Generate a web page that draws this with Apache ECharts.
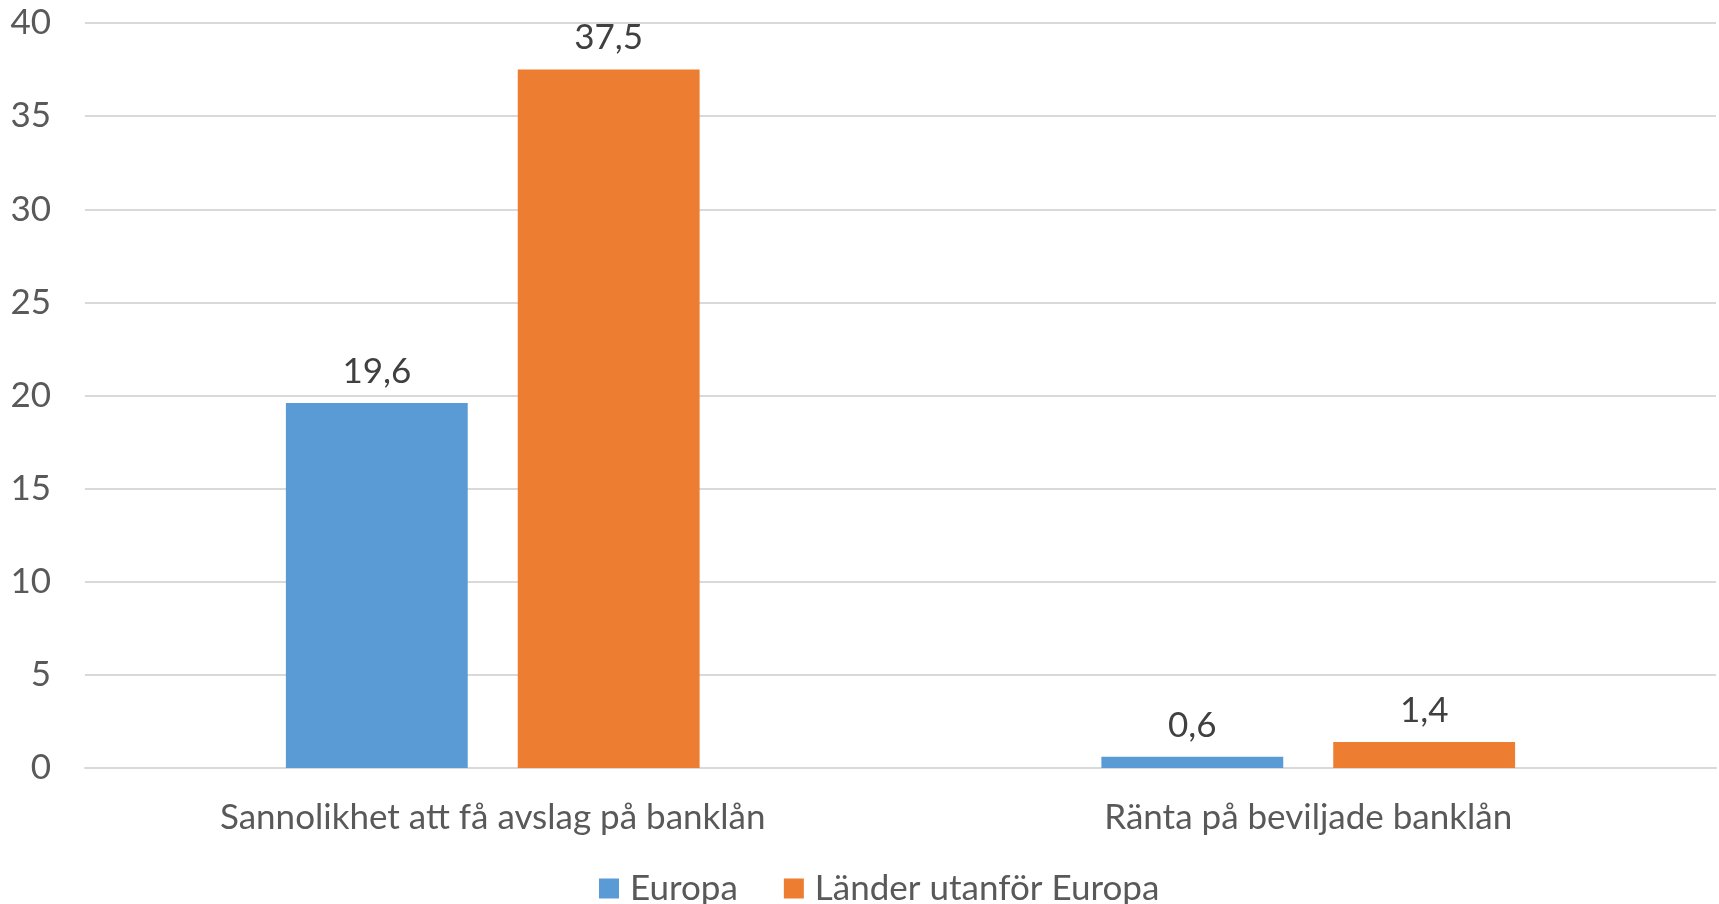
<!DOCTYPE html>
<html>
<head>
<meta charset="utf-8">
<script src="https://cdn.jsdelivr.net/npm/echarts@6/dist/echarts.min.js"></script>
<style>
html,body{margin:0;padding:0;background:#fff;}
#c{width:1719px;height:904px;}
</style>
</head>
<body>
<div id="c"></div>
<script>
const categories = ["Sannolikhet att få avslag på banklån", "Ränta på beviljade banklån"];
const seriesNames = ["Europa", "Länder utanför Europa"];
const europa = [19.6, 0.6];
const utanfor = [37.5, 1.4];
const yTicks = [0, 5, 10, 15, 20, 25, 30, 35, 40];

const FONT = 'Lato';
const FS = 35;
const chart = echarts.init(document.getElementById('c'), null, {renderer: 'canvas'});
const labelCfg = {
  show: true, position: 'top', distance: 14,
  color: '#404040', fontSize: FS, fontFamily: FONT,
  formatter: p => String(p.value).replace('.', ',')
};
chart.setOption({
  animation: false,
  textStyle: {fontFamily: FONT},
  grid: {left: 85, right: 3, top: 23, bottom: 136, containLabel: false},
  legend: {
    data: seriesNames,
    top: 866, left: 594,
    itemWidth: 20, itemHeight: 20, itemGap: 46,
    icon: 'rect',
    textStyle: {color: '#595959', fontSize: FS, fontFamily: FONT, padding: [0, 0, 0, 6]}
  },
  xAxis: {
    type: 'category', data: categories,
    axisLine: {show: true, lineStyle: {color: '#d9d9d9', width: 2}},
    axisTick: {show: false},
    axisLabel: {color: '#595959', fontSize: FS, fontFamily: FONT, margin: 32}
  },
  yAxis: {
    type: 'value', min: yTicks[0], max: yTicks[yTicks.length - 1], interval: 5,
    axisLine: {show: false}, axisTick: {show: false},
    splitLine: {lineStyle: {color: '#d9d9d9', width: 2}},
    axisLabel: {color: '#595959', fontSize: FS, fontFamily: FONT, margin: 34}
  },
  series: [
    {name: seriesNames[0], type: 'bar', data: europa, barWidth: '22.3%', barGap: '27.5%',
     itemStyle: {color: '#5b9bd5'}, label: labelCfg},
    {name: seriesNames[1], type: 'bar', data: utanfor, barWidth: '22.3%', barGap: '27.5%',
     itemStyle: {color: '#ed7d31'}, label: labelCfg}
  ]
});
</script>
</body>
</html>
